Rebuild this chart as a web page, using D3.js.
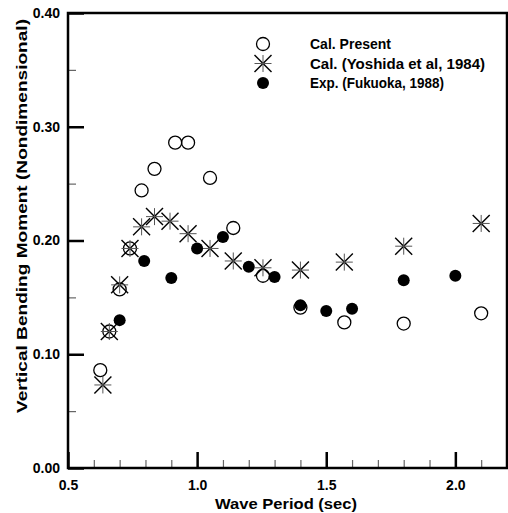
<!DOCTYPE html>
<html>
<head>
<meta charset="utf-8">
<script src="https://cdn.jsdelivr.net/npm/d3@7/dist/d3.min.js"></script>
<style>
  html, body { margin: 0; padding: 0; background: #fff; }
  svg { display: block; }
  text { font-family: "Liberation Sans", Arial, sans-serif; font-weight: bold; fill: #000; }
</style>
</head>
<body>
<svg id="chart" width="508" height="513"></svg>
<script>
// ---- Data ----
const presentT = [0.625, 0.66, 0.70, 0.74, 0.785, 0.835, 0.915, 0.965, 1.05, 1.14, 1.255, 1.40, 1.57, 1.80, 2.10];
const presentM = [0.086, 0.120, 0.157, 0.193, 0.244, 0.263, 0.286, 0.286, 0.255, 0.211, 0.169, 0.141, 0.128, 0.127, 0.136];

const yoshidaT = [0.635, 0.66, 0.70, 0.74, 0.785, 0.835, 0.895, 0.965, 1.05, 1.14, 1.255, 1.40, 1.57, 1.80, 2.10];
const yoshidaM = [0.073, 0.120, 0.161, 0.193, 0.212, 0.221, 0.217, 0.206, 0.193, 0.182, 0.176, 0.174, 0.181, 0.195, 0.215];

const fukuokaT = [0.70, 0.795, 0.90, 1.00, 1.10, 1.20, 1.30, 1.40, 1.50, 1.60, 1.80, 2.00];
const fukuokaM = [0.130, 0.182, 0.167, 0.193, 0.203, 0.177, 0.168, 0.143, 0.138, 0.140, 0.165, 0.169];

const xMajorTicks = [0.5, 1.0, 1.5, 2.0];
const xMinorTicks = [0.6, 0.7, 0.8, 0.9, 1.1, 1.2, 1.3, 1.4, 1.6, 1.7, 1.8, 1.9, 2.1];
const yMajorTicks = [0.00, 0.10, 0.20, 0.30, 0.40];
const yMinorTicks = [0.05, 0.15, 0.25, 0.35];

const legendLabels = ["Cal. Present", "Cal. (Yoshida et al, 1984)", "Exp. (Fukuoka, 1988)"];
const xTitle = "Wave Period (sec)";
const yTitle = "Vertical Bending Moment (Nondimensional)";

// ---- Layout ----
const L = 68, R = 507, T = 13, B = 468;
const svg = d3.select("#chart");
const x = d3.scaleLinear().domain([0.5, 2.2]).range([L, R]);
const y = d3.scaleLinear().domain([0, 0.4]).range([B, T]);

// Minor ticks
const xMinor = svg.append("g").attr("transform", `translate(0,${B})`)
  .call(d3.axisBottom(x).tickValues(xMinorTicks).tickSize(-8).tickFormat(""));
xMinor.select(".domain").remove();
xMinor.selectAll("line").attr("stroke", "#666").attr("stroke-width", 1.2);

const yMinor = svg.append("g").attr("transform", `translate(${L},0)`)
  .call(d3.axisLeft(y).tickValues(yMinorTicks).tickSize(-8).tickFormat(""));
yMinor.select(".domain").remove();
yMinor.selectAll("line").attr("stroke", "#666").attr("stroke-width", 1.2);

// Major ticks + labels
const xAxis = svg.append("g").attr("transform", `translate(0,${B})`)
  .call(d3.axisBottom(x).tickValues(xMajorTicks).tickSize(-16).tickPadding(12).tickFormat(d3.format(".1f")));
xAxis.select(".domain").remove();
xAxis.selectAll("line").attr("stroke", "#000").attr("stroke-width", 2.5);
xAxis.selectAll("text").style("font-size", "14px").style("font-family", "Liberation Sans, Arial, sans-serif").style("font-weight", "bold");

const yAxis = svg.append("g").attr("transform", `translate(${L},0)`)
  .call(d3.axisLeft(y).tickValues(yMajorTicks).tickSize(-16).tickPadding(8).tickFormat(d3.format(".2f")));
yAxis.select(".domain").remove();
yAxis.selectAll("line").attr("stroke", "#000").attr("stroke-width", 2.5);
yAxis.selectAll("text").style("font-size", "14px").style("font-family", "Liberation Sans, Arial, sans-serif").style("font-weight", "bold");

// Frame
svg.append("rect").attr("x", L).attr("y", T).attr("width", R - L).attr("height", B - T)
  .attr("fill", "none").attr("stroke", "#000").attr("stroke-width", 2.5);

// Axis titles
svg.append("text").attr("x", 286).attr("y", 509).attr("text-anchor", "middle")
  .attr("textLength", 142).attr("lengthAdjust", "spacingAndGlyphs")
  .style("font-size", "14.5px").text(xTitle);
svg.append("text").attr("transform", `translate(27,216) rotate(-90)`)
  .attr("text-anchor", "middle")
  .attr("textLength", 394).attr("lengthAdjust", "spacingAndGlyphs")
  .style("font-size", "14.5px").text(yTitle);

// Marker helpers
function drawAsterisk(g, cx, cy) {
  const s = 8.5;
  g.append("line").attr("x1", cx - s).attr("y1", cy - s).attr("x2", cx + s).attr("y2", cy + s)
    .attr("stroke", "#000").attr("stroke-width", 1.4);
  g.append("line").attr("x1", cx - s).attr("y1", cy + s).attr("x2", cx + s).attr("y2", cy - s)
    .attr("stroke", "#000").attr("stroke-width", 1.4);
  g.append("line").attr("x1", cx).attr("y1", cy - s).attr("x2", cx).attr("y2", cy + s)
    .attr("stroke", "#555").attr("stroke-width", 1);
  g.append("line").attr("x1", cx - s).attr("y1", cy).attr("x2", cx + s).attr("y2", cy)
    .attr("stroke", "#555").attr("stroke-width", 1);
}

// Series
const gPresent = svg.append("g");
gPresent.selectAll("circle").data(d3.zip(presentT, presentM)).join("circle")
  .attr("cx", d => x(d[0])).attr("cy", d => y(d[1])).attr("r", 6.5)
  .attr("fill", "none").attr("stroke", "#000").attr("stroke-width", 1.3);

const gYoshida = svg.append("g");
d3.zip(yoshidaT, yoshidaM).forEach(d => drawAsterisk(gYoshida, x(d[0]), y(d[1])));

const gFukuoka = svg.append("g");
gFukuoka.selectAll("circle").data(d3.zip(fukuokaT, fukuokaM)).join("circle")
  .attr("cx", d => x(d[0])).attr("cy", d => y(d[1])).attr("r", 6)
  .attr("fill", "#000");

// Legend
const legY = [44, 63.5, 83];
const legX = 263;
const legLen = [81, 175, 134];
const lg = svg.append("g");
lg.append("circle").attr("cx", legX).attr("cy", legY[0]).attr("r", 6.5)
  .attr("fill", "none").attr("stroke", "#000").attr("stroke-width", 1.3);
drawAsterisk(lg, legX, legY[1]);
lg.append("circle").attr("cx", legX).attr("cy", legY[2]).attr("r", 6).attr("fill", "#000");
legendLabels.forEach((t, i) => {
  lg.append("text").attr("x", 310).attr("y", legY[i]).attr("dy", "0.35em")
    .attr("textLength", legLen[i]).attr("lengthAdjust", "spacingAndGlyphs")
    .style("font-size", "14.5px").text(t);
});
</script>
</body>
</html>
